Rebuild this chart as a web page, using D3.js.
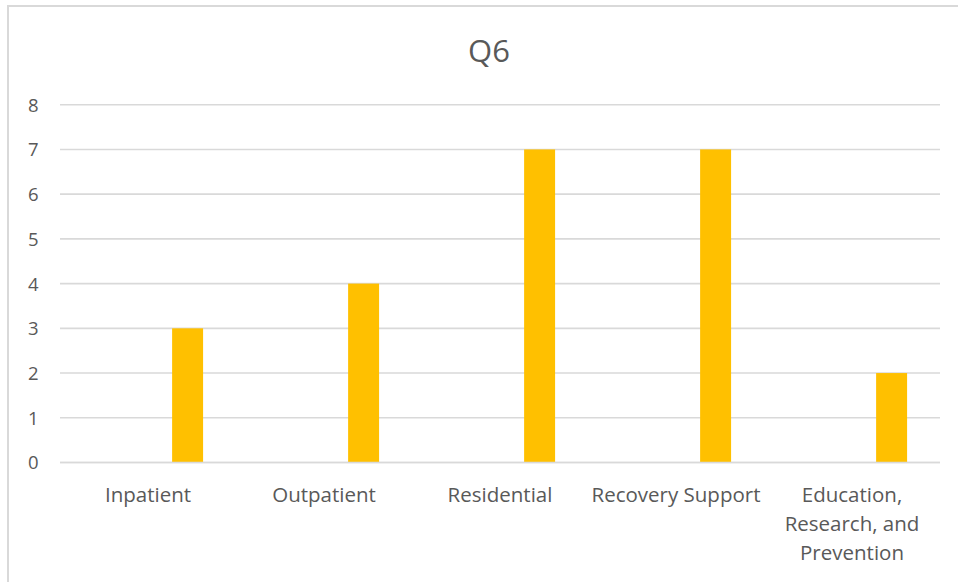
<!DOCTYPE html>
<html>
<head>
<meta charset="utf-8">
<script src="https://cdn.jsdelivr.net/npm/d3@7"></script>
<style>
  html, body { margin: 0; padding: 0; background: #fff; }
  svg { display: block; }
</style>
</head>
<body>
<svg id="chart" width="958" height="582"></svg>
<script>
const title = "Q6";
const categories = ["Inpatient", "Outpatient", "Residential", "Recovery Support", "Education, Research, and Prevention"];
const values = [3, 4, 7, 7, 2];
const yTicks = [0, 1, 2, 3, 4, 5, 6, 7, 8];

const W = 958, H = 582;
const margin = { left: 60, right: 18, top: 104.7, bottom: 119.5 };
const font = "'Open Sans', 'Noto Sans', sans-serif";
const textColor = "#595959";
const gridColor = "#d9d9d9";
const barColor = "#FFC000";

const svg = d3.select("#chart");

// outer chart frame (extends beyond visible area right/bottom)
svg.append("rect")
  .attr("x", 8).attr("y", 6)
  .attr("width", W + 20).attr("height", H + 20)
  .attr("fill", "#fff")
  .attr("stroke", gridColor).attr("stroke-width", 2);

const x = d3.scaleBand()
  .domain(categories)
  .range([margin.left, W - margin.right])
  .padding(0);

const y = d3.scaleLinear()
  .domain([0, 8])
  .range([H - margin.bottom, margin.top]);

// gridlines
svg.append("g")
  .selectAll("line")
  .data(yTicks)
  .join("line")
  .attr("x1", margin.left).attr("x2", W - margin.right)
  .attr("y1", d => y(d)).attr("y2", d => y(d))
  .attr("stroke", gridColor).attr("stroke-width", 1.6);

// y axis labels
const yAxis = d3.axisLeft(y).tickValues(yTicks).tickSize(0).tickPadding(0);
const gy = svg.append("g").attr("transform", `translate(38.5,0)`).call(yAxis);
gy.select(".domain").remove();
gy.selectAll("text")
  .attr("fill", textColor)
  .style("font-family", font)
  .style("font-size", "18.5px")
  .attr("text-anchor", "end")
  .attr("dy", "0.35em");

// bars
const bw = x.bandwidth();
svg.append("g")
  .selectAll("rect")
  .data(categories.map((c, i) => ({ c, v: values[i] })))
  .join("rect")
  .attr("x", d => x(d.c) + bw * 0.637)
  .attr("width", bw * 0.176)
  .attr("y", d => y(d.v))
  .attr("height", d => y(0) - y(d.v))
  .attr("fill", barColor);

// baseline
svg.append("line")
  .attr("x1", margin.left).attr("x2", W - margin.right)
  .attr("y1", y(0)).attr("y2", y(0))
  .attr("stroke", gridColor).attr("stroke-width", 1.6);

// category labels with wrapping
const xAxis = d3.axisBottom(x).tickSize(0).tickPadding(0);
const gx = svg.append("g").attr("transform", `translate(0,${y(0)})`).call(xAxis);
gx.select(".domain").remove();
gx.selectAll("text")
  .attr("fill", textColor)
  .style("font-family", font)
  .style("font-size", "20.5px")
  .attr("y", 39.5)
  .attr("dy", 0)
  .each(function(d) {
    const t = d3.select(this);
    const words = d.split(/\s+/);
    t.text(null);
    let line = [];
    let tspan = t.append("tspan").attr("x", 0).attr("dy", 0);
    for (const w of words) {
      line.push(w);
      tspan.text(line.join(" "));
      if (tspan.node().getComputedTextLength() > bw && line.length > 1) {
        line.pop();
        tspan.text(line.join(" "));
        line = [w];
        tspan = t.append("tspan").attr("x", 0).attr("dy", 29).text(w);
      }
    }
  });

// title
svg.append("text")
  .attr("x", 489).attr("y", 62)
  .attr("text-anchor", "middle")
  .attr("fill", textColor)
  .style("font-family", font)
  .style("font-size", "31px")
  .text(title);
</script>
</body>
</html>
